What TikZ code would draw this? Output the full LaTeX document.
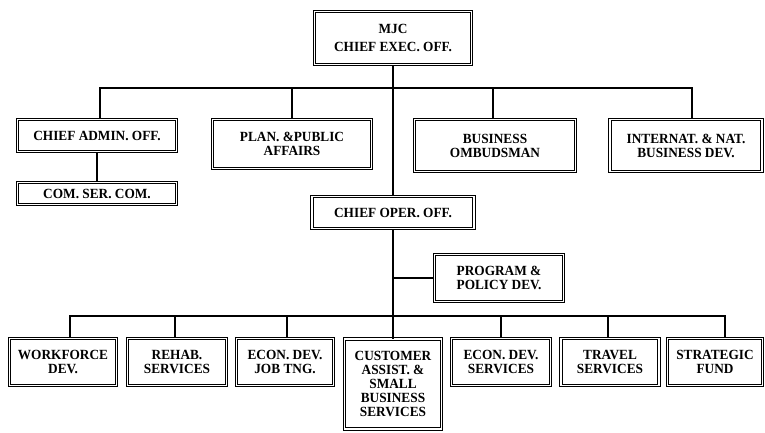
\documentclass[tikz,border=0pt]{standalone}
\usepackage{fontspec}
\setmainfont[FakeStretch=0.95]{Liberation Serif}
\tikzset{
  unit/.style={draw, double, double distance=1.3pt, line width=1pt, align=center,
    inner sep=1pt, font=\bfseries\fontsize{14}{14}\selectfont},
  link/.style={line width=1.6pt}
}
\begin{document}
\begin{tikzpicture}[x=1pt, y=-1pt]
\useasboundingbox (0,0) rectangle (765,432);
% top level
\node[unit, minimum width=157pt, minimum height=53pt] (ceo) at (393,38) {MJC\\[4pt] CHIEF EXEC. OFF.};
\node[unit, minimum width=159pt, minimum height=32pt] (cao) at (97,135.5) {CHIEF ADMIN. OFF.};
\node[unit, minimum width=159pt, minimum height=49pt] (paf) at (292,144) {PLAN. \&PUBLIC\\ AFFAIRS};
\node[unit, minimum width=161pt, minimum height=52pt] (bom) at (495,145.5) {BUSINESS\\ OMBUDSMAN};
\node[unit, minimum width=152pt, minimum height=52pt] (ind) at (686,145.5) {INTERNAT. \& NAT.\\ BUSINESS DEV.};
\node[unit, minimum width=159pt, minimum height=22pt] (csc) at (97,193.5) {COM. SER. COM.};
\node[unit, minimum width=162pt, minimum height=32pt] (coo) at (393,212.5) {CHIEF OPER. OFF.};
\node[unit, minimum width=129pt, minimum height=47pt] (pdv) at (499,278) {PROGRAM \&\\ POLICY DEV.};
% bottom row
\node[unit, minimum width=107pt, minimum height=47pt] (wfd) at (63,362) {WORKFORCE\\ DEV.};
\node[unit, minimum width=99pt, minimum height=47pt] (rhs) at (177,362) {REHAB.\\ SERVICES};
\node[unit, minimum width=97pt, minimum height=47pt] (ejt) at (285,362) {ECON. DEV.\\ JOB TNG.};
\node[unit, minimum width=97pt, minimum height=90pt] (cas) at (393,384) {CUSTOMER\\ ASSIST. \&\\ SMALL\\ BUSINESS\\ SERVICES};
\node[unit, minimum width=99pt, minimum height=47pt] (eds) at (501,362) {ECON. DEV.\\ SERVICES};
\node[unit, minimum width=98pt, minimum height=47pt] (trs) at (610,362) {TRAVEL\\ SERVICES};
\node[unit, minimum width=95pt, minimum height=47pt] (sfd) at (715,362) {STRATEGIC\\ FUND};
% connectors
\coordinate (tbus) at (393,88);
\coordinate (bbus) at (393,316);
\draw[link] ([xshift=3pt]cao.north) |- (tbus) -| ([xshift=6pt]ind.north);
\draw[link] (paf) |- (tbus);
\draw[link] ([xshift=-2pt]bom.north) |- (tbus);
\draw[link] (ceo) -- (coo);
\draw[link] (cao) -- (csc);
\draw[link] (coo) -- (cas);
\draw[link] (pdv) -- (pdv -| coo);
\draw[link] ([xshift=7pt]wfd.north) |- (bbus) -| ([xshift=10pt]sfd.north);
\draw[link] ([xshift=-2pt]rhs.north) |- (bbus);
\draw[link] ([xshift=2pt]ejt.north) |- (bbus);
\draw[link] (eds) |- (bbus);
\draw[link] ([xshift=-2pt]trs.north) |- (bbus);
\end{tikzpicture}
\end{document}
